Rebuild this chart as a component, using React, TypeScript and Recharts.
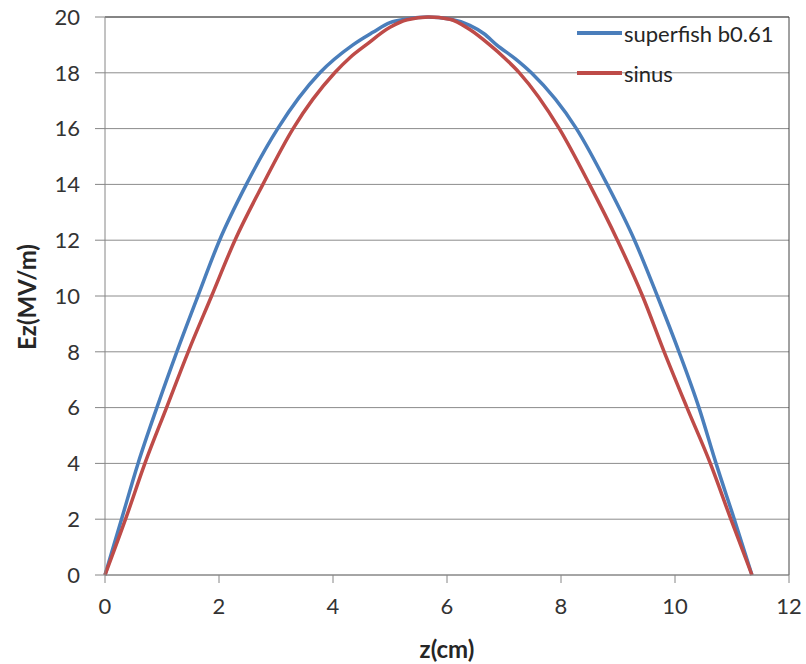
import {
  LineChart,
  Line,
  XAxis,
  YAxis,
  CartesianGrid,
  Legend,
  ReferenceLine,
} from "recharts";

// values (z in cm, Ez in MV/m)
const superfishZ = [
  0, 0.29, 0.58, 0.91, 1.26, 1.63, 2.01, 2.48, 3.03, 3.77, 4.35, 4.7, 5.0,
  5.3, 5.65, 6.05, 6.4, 6.65, 6.87, 7.2, 7.48, 8.27, 8.81, 9.29, 9.69, 10.07,
  10.42, 10.72, 11.04, 11.35,
];
const superfishEz = [
  0, 2, 4, 6, 8, 10, 12, 14, 16, 18, 19, 19.45, 19.8, 19.93, 20, 19.93, 19.7,
  19.4, 19, 18.5, 18, 16, 14, 12, 10, 8, 6, 4, 2, 0,
];
const sinusZ = [
  0, 0.36, 0.7, 1.08, 1.46, 1.87, 2.28, 2.77, 3.3, 4.03, 4.3, 4.58, 5.0, 5.3,
  5.68, 6.05, 6.4, 6.75, 7.0, 7.27, 7.97, 8.5, 8.99, 9.43, 9.81, 10.21, 10.62,
  10.98, 11.35,
];
const sinusEz = [
  0, 2, 4, 6, 8, 10, 12, 14, 16, 18, 18.55, 19, 19.63, 19.9, 20, 19.92, 19.55,
  19, 18.55, 18, 16, 14, 12, 10, 8, 6, 4, 2, 0,
];
const seriesNames = ["superfish b0.61", "sinus"];
const xTicks = [0, 2, 4, 6, 8, 10, 12];
const yTicks = [0, 2, 4, 6, 8, 10, 12, 14, 16, 18, 20];

const superfish = superfishZ.map((z, i) => ({ z, ez: superfishEz[i] }));
const sinus = sinusZ.map((z, i) => ({ z, ez: sinusEz[i] }));

const FONT = "Lato, 'Open Sans', sans-serif";
const AXIS = "#868686";

function renderLegend(props: any) {
  const items = [...(props.payload || [])].sort(
    (a: any, b: any) => seriesNames.indexOf(a.value) - seriesNames.indexOf(b.value)
  );
  return (
    <div style={{ fontFamily: FONT, fontSize: 22, color: "#262626" }}>
      {items.map((it: any) => (
        <div
          key={it.value}
          style={{ display: "flex", alignItems: "center", height: 40 }}
        >
          <span
            style={{
              display: "inline-block",
              width: 45,
              height: 4,
              background: it.color,
              marginRight: 2,
            }}
          />
          <span>{it.value}</span>
        </div>
      ))}
    </div>
  );
}

export default function App() {
  return (
    <div style={{ position: "absolute", left: 0, top: 0, background: "#fff" }}>
      <LineChart
        width={806}
        height={664}
        margin={{ top: 17, right: 17, left: 0, bottom: 0 }}
      >
        <CartesianGrid vertical={false} stroke="#8c8c8c" />
        <XAxis
          type="number"
          dataKey="z"
          domain={[0, 12]}
          ticks={xTicks}
          height={89}
          stroke={AXIS}
          tickSize={8}
          tickMargin={15}
          tick={{ fill: "#333", fontSize: 22, fontFamily: FONT }}
          label={{
            content: () => (
              <text
                x={447}
                y={648}
                textAnchor="middle"
                dominantBaseline="central"
                fontFamily={FONT}
                fontSize={24}
                fontWeight="bold"
                fill="#262626"
              >
                z(cm)
              </text>
            ),
          }}
        />
        <YAxis
          type="number"
          domain={[0, 20]}
          ticks={yTicks}
          width={105}
          stroke={AXIS}
          tickSize={10}
          tickMargin={15}
          tick={{ fill: "#333", fontSize: 22, fontFamily: FONT }}
          label={{
            content: () => (
              <text
                x={26}
                y={297}
                transform="rotate(-90 26 297)"
                textAnchor="middle"
                dominantBaseline="central"
                fontFamily={FONT}
                fontSize={24}
                fontWeight="bold"
                fill="#262626"
              >
                Ez(MV/m)
              </text>
            ),
          }}
        />
        <ReferenceLine y={20} stroke="#444" />
        <ReferenceLine x={12} stroke="#444" />
        <Legend
          layout="vertical"
          verticalAlign="middle"
          align="center"
          wrapperStyle={{ top: 13, left: 577, right: "auto", bottom: "auto", width: 220 }}
          content={renderLegend}
        />
        <Line
          data={superfish}
          dataKey="ez"
          name="superfish b0.61"
          type="monotone"
          stroke="#4a7ebb"
          strokeWidth={3.5}
          dot={false}
          isAnimationActive={false}
        />
        <Line
          data={sinus}
          dataKey="ez"
          name="sinus"
          type="monotone"
          stroke="#be4b48"
          strokeWidth={3.5}
          dot={false}
          isAnimationActive={false}
        />
      </LineChart>
    </div>
  );
}
